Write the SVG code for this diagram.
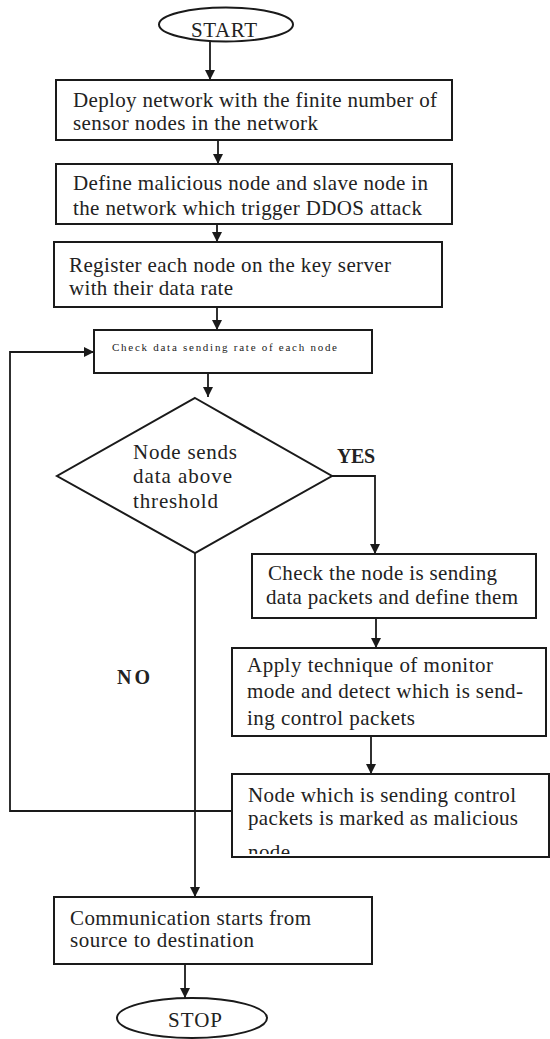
<svg xmlns="http://www.w3.org/2000/svg" width="550" height="1039" viewBox="0 0 550 1039">
<style>
.box{fill:#fff;stroke:#1a1a1a;stroke-width:2}
.ln{fill:none;stroke:#1a1a1a;stroke-width:1.8}
.t{font-family:"Liberation Serif","Times New Roman",serif;font-size:21px;fill:#222}
.b{font-family:"Liberation Serif","Times New Roman",serif;font-size:20px;font-weight:bold;fill:#222}
.s{font-family:"Liberation Serif","Times New Roman",serif;font-size:11px;fill:#222}
</style>
<defs>
<marker id="ah" markerUnits="userSpaceOnUse" markerWidth="10" markerHeight="10" refX="10" refY="5" orient="auto">
<path d="M0,0 L10,5 L0,10 z" fill="#1a1a1a"/>
</marker>
<clipPath id="c7"><rect x="232" y="774" width="318" height="80"/></clipPath>
</defs>
<rect width="550" height="1039" fill="#fff"/>
<g id="connectors">
<line class="ln" x1="210" y1="42" x2="210" y2="80" marker-end="url(#ah)"/>
<line class="ln" x1="218" y1="140" x2="218" y2="164" marker-end="url(#ah)"/>
<line class="ln" x1="217" y1="224" x2="217" y2="242" marker-end="url(#ah)"/>
<line class="ln" x1="217" y1="307" x2="217" y2="330" marker-end="url(#ah)"/>
<line class="ln" x1="208" y1="373" x2="208" y2="397" marker-end="url(#ah)"/>
<polyline class="ln" points="332,476 375,476 375,554" marker-end="url(#ah)"/>
<line class="ln" x1="376" y1="618" x2="376" y2="648" marker-end="url(#ah)"/>
<line class="ln" x1="371" y1="736" x2="371" y2="774" marker-end="url(#ah)"/>
<line class="ln" x1="195" y1="553" x2="195" y2="897" marker-end="url(#ah)"/>
<polyline class="ln" points="232,811 10,811 10,352 94,352" marker-end="url(#ah)"/>
<line class="ln" x1="185" y1="964" x2="185" y2="998" marker-end="url(#ah)"/>
</g>
<g id="start">
<ellipse class="box" cx="226" cy="24.5" rx="67" ry="17"/>
<text class="t" x="191" y="37" textLength="66">START</text>
</g>
<g id="deploy">
<rect class="box" x="56" y="80" width="396" height="60"/>
<text class="t" x="73" y="107" textLength="364">Deploy network with the finite number of</text>
<text class="t" x="73" y="130" textLength="245">sensor nodes in the network</text>
</g>
<g id="define">
<rect class="box" x="56" y="164" width="396" height="60"/>
<text class="t" x="73" y="190" textLength="355">Define malicious node and slave node in</text>
<text class="t" x="73" y="215" textLength="349">the network which trigger DDOS attack</text>
</g>
<g id="register">
<rect class="box" x="54" y="242" width="388" height="65"/>
<text class="t" x="69" y="272" textLength="322">Register each node on the key server</text>
<text class="t" x="69" y="295" textLength="164">with their data rate</text>
</g>
<g id="check-rate">
<rect class="box" x="94" y="330" width="278" height="43"/>
<text class="s" x="112" y="351" textLength="225">Check data sending rate of each node</text>
</g>
<g id="decision">
<polygon class="box" points="195,398 332,476 195,553 57,476"/>
<text class="t" x="133" y="459" textLength="104">Node sends</text>
<text class="t" x="133" y="483" textLength="99">data above</text>
<text class="t" x="133" y="508" textLength="85">threshold</text>
</g>
<g id="labels">
<text class="b" x="337" y="463" textLength="38">YES</text>
<text class="b" x="117" y="684" textLength="33">NO</text>
</g>
<g id="check-node">
<rect class="box" x="252" y="554" width="284" height="64"/>
<text class="t" x="268" y="580" textLength="229">Check the node is sending</text>
<text class="t" x="266" y="604" textLength="252">data packets and define them</text>
</g>
<g id="apply">
<rect class="box" x="232" y="648" width="314" height="88"/>
<text class="t" x="247" y="672" textLength="246">Apply technique of monitor</text>
<text class="t" x="247" y="698" textLength="276">mode and detect which is send-</text>
<text class="t" x="247" y="725" textLength="168">ing control packets</text>
</g>
<g id="mark">
<rect class="box" x="232" y="774" width="317" height="83"/>
<g clip-path="url(#c7)">
<text class="t" x="248" y="802" textLength="268">Node which is sending control</text>
<text class="t" x="248" y="825" textLength="270">packets is marked as malicious</text>
<text class="t" x="248" y="859" textLength="42">node</text>
</g>
</g>
<g id="communicate">
<rect class="box" x="54" y="897" width="318" height="67"/>
<text class="t" x="70" y="925" textLength="241">Communication starts from</text>
<text class="t" x="70" y="947" textLength="184">source to destination</text>
</g>
<g id="stop">
<ellipse class="box" cx="192" cy="1018" rx="75" ry="20"/>
<text class="t" x="168" y="1027" textLength="54">STOP</text>
</g>
</svg>
